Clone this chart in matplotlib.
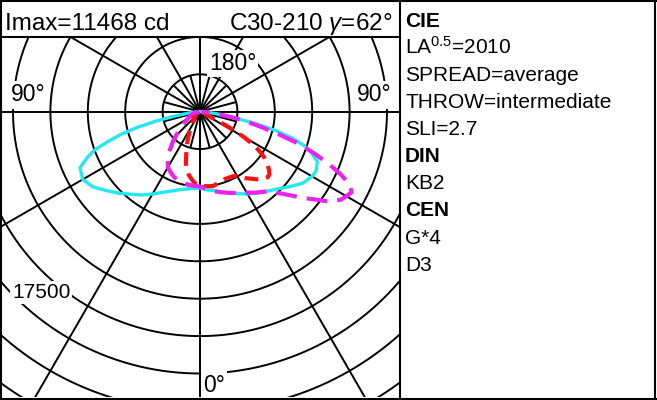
import numpy as np
import matplotlib
matplotlib.use('Agg')
import matplotlib.pyplot as plt
from matplotlib.lines import Line2D

plt.rcParams['font.family'] = ['Liberation Sans', 'DejaVu Sans']
plt.rcParams['mathtext.fontset'] = 'custom'
plt.rcParams['mathtext.rm'] = 'Liberation Sans'
plt.rcParams['mathtext.it'] = 'Liberation Sans:italic'

# ---------------- data (gamma in degrees, intensity in cd) ----------------
# cyan solid curve (C0 / C180)
cyan_left_gamma = [0, 5, 10, 15, 20, 25, 30, 35, 40, 45, 50, 55, 60, 65, 68, 70, 72, 74, 76, 78, 80, 83, 86, 90]
cyan_left_I = [5100, 5150, 5250, 5400, 5650, 5950, 6350, 6800, 7200, 7700, 8200, 8750, 9050, 8850, 8100, 7500,
               6500, 5500, 4300, 3000, 1800, 800, 300, 100]
cyan_right_gamma = [0, 5, 10, 15, 20, 25, 30, 35, 40, 45, 50, 55, 60, 63, 67, 70, 72, 74, 76, 78, 80, 83, 86, 90]
cyan_right_I = [5100, 5250, 5350, 5540, 5800, 6050, 6350, 6650, 6950, 7300, 7800, 8350, 8650, 8710, 8520, 7900,
                7300, 6400, 5200, 3800, 2300, 1100, 400, 100]

# magenta dashed curve (C30 / C210)
mag_left_gamma = [0, 5, 10, 15, 18, 22, 26, 30, 34, 38, 42, 46, 50, 55, 60, 65, 70, 75, 80, 85, 90]
mag_left_I = [5000, 4970, 4930, 4870, 4830, 4680, 4500, 4280, 3880, 3300, 2720, 2150, 1750, 1260, 950, 780,
              650, 450, 250, 120, 50]
mag_right_gamma = [0, 5, 10, 15, 20, 25, 30, 35, 40, 45, 50, 55, 58, 60, 62, 64, 66, 68, 70, 72, 74, 76, 78, 80,
                   83, 86, 90]
mag_right_I = [5000, 5200, 5400, 5580, 5780, 5980, 6250, 6600, 6950, 7750, 8950, 10450, 11100, 11300, 11468,
               11150, 10300, 9250, 8100, 6950, 5500, 4200, 3200, 2200, 1000, 400, 100]

# red dashed curve (C90 / C270)
red_left_gamma = [0, 4, 7, 10, 14, 16, 19, 23, 27, 30, 35, 42, 50, 60, 75, 90]
red_left_I = [4950, 4800, 4550, 4300, 3850, 3400, 2800, 2150, 1570, 1250, 900, 550, 350, 200, 100, 50]
red_right_gamma = [0, 5, 10, 15, 20, 25, 28, 31, 34, 37, 40, 43, 46, 48, 50, 52, 54.5, 56, 57.5, 59, 60, 61, 62,
                   63, 65, 70, 80, 90]
red_right_I = [4950, 5000, 5050, 4900, 4800, 4820, 4860, 5080, 5350, 5600, 5900, 6150, 6300, 6250, 6020, 5700,
               5280, 4900, 4450, 3800, 3400, 2800, 2000, 1000, 400, 200, 100, 50]

ring_step = 2500
ring_count = 10
ring_label = "17500"

header_left = "Imax=11468 cd"
header_right = r"C30-210 $\gamma$=62°"

info_lines = ["CIE", r"LA$^{0.5}$=2010", "SPREAD=average", "THROW=intermediate", "SLI=2.7",
              "DIN", "KB2", "CEN", "G*4", "D3"]
info_bold = [True, False, False, False, False, True, False, True, False, False]

# ---------------- figure ----------------
W, H = 657, 400
fig = plt.figure(figsize=(W / 100, H / 100), dpi=100)
fig.patch.set_facecolor('white')


def fx(x):
    return x / W


def fy(y):
    return 1 - y / H


# polar panel (pixel box)
L, R, T, B = 2, 399, 37, 397
cx, cy = 200, 111.7
s = 37.4 / ring_step  # pixels per cd
ax = fig.add_axes([fx(L), fy(B), (R - L) / W, (B - T) / H])
ax.set_xlim((L - cx) / s, (R - cx) / s)
ax.set_ylim(-(B - cy) / s, (cy - T) / s)
ax.axis('off')

grid_kw = dict(color='black', lw=1.4, solid_capstyle='butt', zorder=1)
th = np.linspace(0, 2 * np.pi, 1441)
for k in range(1, ring_count + 1):
    r = k * ring_step
    ax.plot(r * np.cos(th), r * np.sin(th), **grid_kw)
for a in range(0, 360, 30):
    ar = np.deg2rad(a)
    ax.plot([0, 40000 * np.cos(ar)], [0, 40000 * np.sin(ar)], **grid_kw)
for a in range(15, 360, 30):
    ar = np.deg2rad(a)
    ax.plot([0, ring_step * np.cos(ar)], [0, ring_step * np.sin(ar)], **grid_kw)


def curve_xy(gl, il, gr, ir):
    gl = np.deg2rad(np.asarray(gl, float))[::-1]
    il = np.asarray(il, float)[::-1]
    gr = np.deg2rad(np.asarray(gr, float))
    ir = np.asarray(ir, float)
    x = np.concatenate([-il * np.sin(gl), ir * np.sin(gr)])
    y = np.concatenate([-il * np.cos(gl), -ir * np.cos(gr)])
    return x, y


x, y = curve_xy(cyan_left_gamma, cyan_left_I, cyan_right_gamma, cyan_right_I)
ax.plot(x, y, color='#22e8f0', lw=2.4, zorder=3, solid_joinstyle='round')
x, y = curve_xy(red_left_gamma, red_left_I, red_right_gamma, red_right_I)
ax.plot(x, y, color='#ff1010', lw=3.0, zorder=4, linestyle=(0, (3.3, 1.9)))
x, y = curve_xy(mag_left_gamma, mag_left_I, mag_right_gamma, mag_right_I)
ax.plot(x, y, color='#ee22ee', lw=3.0, zorder=5, linestyle=(0, (5.0, 2.4)))

# angle / scale labels (white boxes cut the grid)
lab_box = dict(facecolor='white', edgecolor='none', pad=1.5)
fig.text(fx(209), fy(70), "180°", fontsize=16.5, va='baseline', ha='left', bbox=lab_box, zorder=5)
fig.text(fx(11), fy(101.5), "90°", fontsize=16.5, va='baseline', ha='left', bbox=lab_box, zorder=5)
fig.text(fx(357), fy(101.5), "90°", fontsize=16.5, va='baseline', ha='left', bbox=lab_box, zorder=5)
fig.text(fx(203), fy(391.5), "0°", fontsize=16.5, va='baseline', ha='left', bbox=lab_box, zorder=5)
fig.text(fx(12), fy(298), ring_label, fontsize=15, va='baseline', ha='left', bbox=lab_box, zorder=5)

# header
fig.text(fx(5), fy(30), header_left, fontsize=17.5, va='baseline', ha='left')
fig.text(fx(392), fy(30), header_right, fontsize=17.5, va='baseline', ha='right')

# info panel
y0 = 26.7
dy = 27.1
for i, (t, b) in enumerate(zip(info_lines, info_bold)):
    fig.text(fx(405), fy(y0 + i * dy), t, fontsize=15, va='baseline', ha='left',
             fontweight='bold' if b else 'normal')

# frame lines
line_kw = dict(transform=fig.transFigure, color='black', lw=1.5, zorder=20, solid_capstyle='projecting')
for xs, ys in [((0, W), (0.75, 0.75)), ((0, W), (398.5, 398.5)), ((1, 1), (0, H)),
               ((654.5, 654.5), (0, H)), ((399.5, 399.5), (0, H)), ((0, 400), (36.5, 36.5))]:
    fig.add_artist(Line2D([fx(xs[0]), fx(xs[1])], [fy(ys[0]), fy(ys[1])], **line_kw))

fig.savefig('out.png', dpi=100, facecolor='white')
